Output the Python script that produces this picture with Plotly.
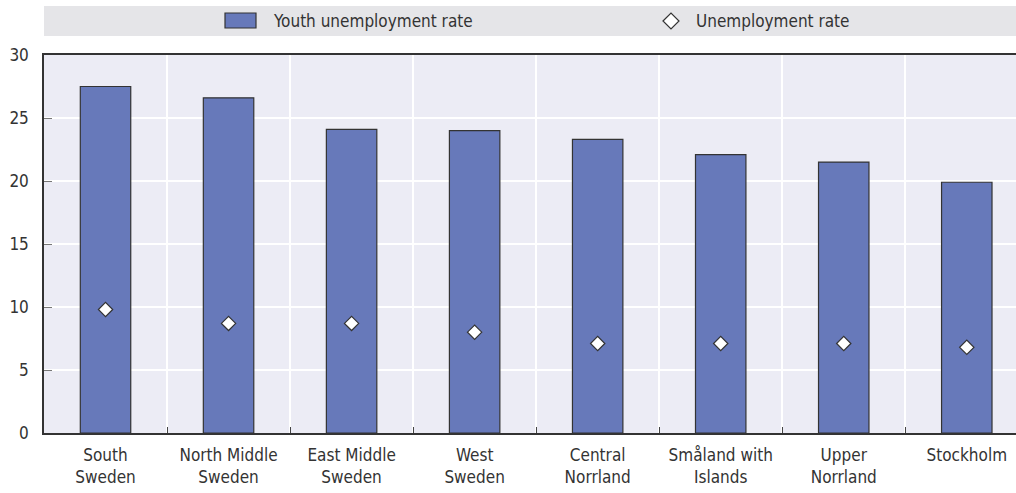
import plotly.graph_objects as go

# Regions of Sweden and their unemployment rates (%)
regions = [
    "South<br>Sweden",
    "North Middle<br>Sweden",
    "East Middle<br>Sweden",
    "West<br>Sweden",
    "Central<br>Norrland",
    "Småland with<br>Islands",
    "Upper<br>Norrland",
    "Stockholm<br> ",
]
youth_rate = [27.5, 26.6, 24.1, 24.0, 23.3, 22.1, 21.5, 19.9]
total_rate = [9.8, 8.7, 8.7, 8.0, 7.1, 7.1, 7.1, 6.8]

y_ticks = [0, 5, 10, 15, 20, 25, 30]

FONT = "Liberation Sans Narrow, DejaVu Sans Condensed, Arial Narrow, sans-serif"
FS = 17
TEXT = "#333333"
BAR = "#6779BA"
EDGE = "#333333"

W, H = 1016, 493
L, R, T, B = 44, 0, 55, 60
pw, ph = W - L - R, H - T - B


def px_x(x):
    return (x - L) / pw


def px_y(y):
    return (H - B - y) / ph


fig = go.Figure()
fig.add_trace(go.Bar(
    x=regions, y=youth_rate, width=0.41,
    marker=dict(color=BAR, line=dict(color=EDGE, width=1.2)),
    name="Youth unemployment rate", showlegend=False,
))
fig.add_trace(go.Scatter(
    x=regions, y=total_rate, mode="markers",
    marker=dict(symbol="diamond", size=11, color="white",
                line=dict(color=EDGE, width=1.2)),
    name="Unemployment rate", showlegend=False,
))

# Legend band across the top
shapes = [
    dict(type="rect", xref="paper", yref="paper",
         x0=0, x1=1, y0=px_y(36), y1=px_y(6),
         fillcolor="#E5E5E8", line=dict(width=0), layer="below"),
    dict(type="rect", xref="paper", yref="paper",
         x0=px_x(225), x1=px_x(256), y0=px_y(28), y1=px_y(13),
         fillcolor=BAR, line=dict(color=EDGE, width=1.2)),
    dict(type="path", xref="paper", yref="paper",
         path=(f"M {px_x(663)},{px_y(21)} L {px_x(671)},{px_y(13)} "
               f"L {px_x(679)},{px_y(21)} L {px_x(671)},{px_y(29)} Z"),
         fillcolor="white", line=dict(color=EDGE, width=1.2)),
]
annotations = [
    dict(xref="paper", yref="paper", x=px_x(271), y=px_y(21),
         xanchor="left", yanchor="middle", showarrow=False,
         text="Youth unemployment rate",
         font=dict(family=FONT, size=FS, color=TEXT)),
    dict(xref="paper", yref="paper", x=px_x(694), y=px_y(21),
         xanchor="left", yanchor="middle", showarrow=False,
         text="Unemployment rate",
         font=dict(family=FONT, size=FS, color=TEXT)),
]

fig.update_layout(
    width=W, height=H,
    margin=dict(l=L, r=R, t=T, b=B, pad=0),
    paper_bgcolor="white",
    plot_bgcolor="#ECECF5",
    font=dict(family=FONT, size=FS, color=TEXT),
    shapes=shapes,
    annotations=annotations,
    bargap=0.59,
    showlegend=False,
)
fig.update_xaxes(
    range=[-0.5, 7.4],
    tickson="boundaries",
    ticks="inside", ticklen=6, tickcolor="#444444", tickwidth=1,
    showgrid=True, gridcolor="white", gridwidth=1.5,
    showline=True, linecolor=EDGE, linewidth=1.5, mirror=True,
    tickfont=dict(family=FONT, size=FS, color=TEXT),
    ticklabelstandoff=6,
    fixedrange=True,
)
fig.update_yaxes(
    range=[0, 30],
    tickvals=y_ticks,
    ticks="inside", ticklen=8, tickcolor="#777777", tickwidth=1,
    showgrid=True, gridcolor="white", gridwidth=1.5,
    showline=True, linecolor=EDGE, linewidth=1.5,
    zeroline=False,
    tickfont=dict(family=FONT, size=FS, color=TEXT),
    ticklabelstandoff=10,
    fixedrange=True,
)

fig.write_html("out.html", config=dict(displayModeBar=False))
